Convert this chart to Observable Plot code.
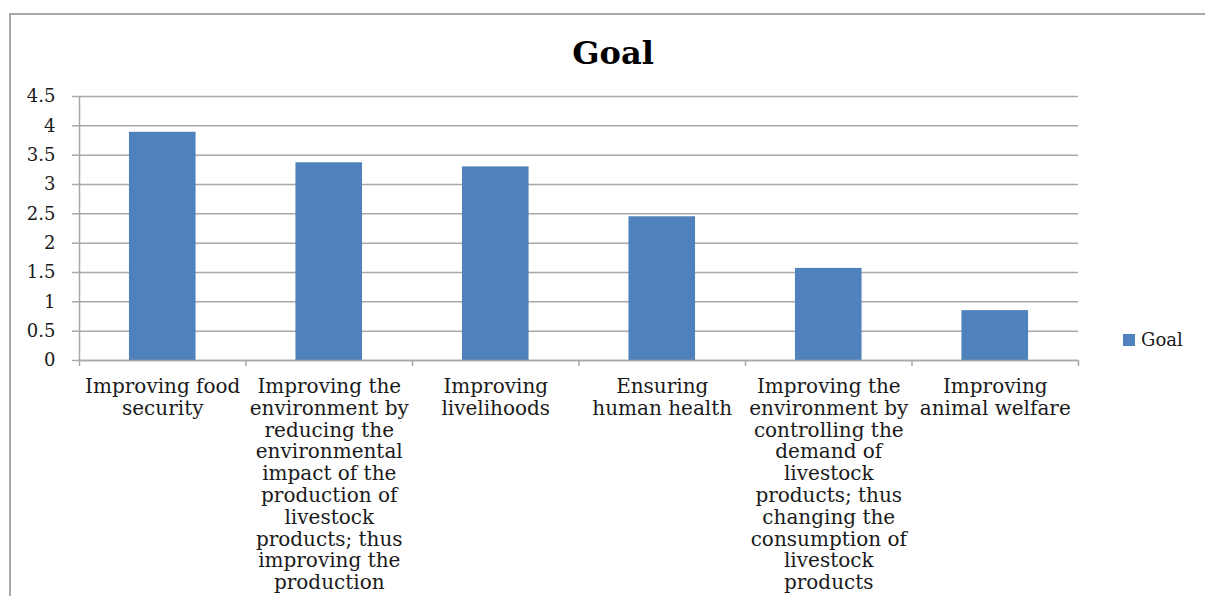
<!DOCTYPE html>
<html>
<head>
<meta charset="utf-8">
<script src="https://cdn.jsdelivr.net/npm/d3@7"></script>
<script src="https://cdn.jsdelivr.net/npm/@observablehq/plot@0.6"></script>
<style>
  html, body { margin: 0; padding: 0; background: #fff; overflow: hidden; }
  #wrap { position: relative; width: 1205px; height: 596px; overflow: hidden; }
  #border { position: absolute; left: 9px; top: 13px; width: 1400px; height: 800px;
            border-left: 2px solid #a8a8a8; border-top: 2px solid #a8a8a8; box-sizing: border-box; }
  #chart { position: absolute; left: 0; top: 0; }
  #legend { position: absolute; left: 1123px; top: 329px; font-family: "DejaVu Serif", serif;
            font-size: 18px; color: #1a1a1a; display: flex; align-items: center; }
  #legend .sw { width: 12px; height: 12px; background: #4f81bd; margin-right: 6px; }
</style>
</head>
<body>
<div id="wrap">
  <div id="border"></div>
  <div id="chart"></div>
  <div id="legend"><div class="sw"></div><span>Goal</span></div>
</div>
<script>
const title = "Goal";
const seriesName = "Goal";
const categories = [
  "Improving food security",
  "Improving the environment by reducing the environmental impact of the production of livestock products; thus improving the production",
  "Improving livelihoods",
  "Ensuring human health",
  "Improving the environment by controlling the demand of livestock products; thus changing the consumption of livestock products",
  "Improving animal welfare"
];
const tickLabels = [
  "Improving food\nsecurity",
  "Improving the\nenvironment by\nreducing the\nenvironmental\nimpact of the\nproduction of\nlivestock\nproducts; thus\nimproving the\nproduction",
  "Improving\nlivelihoods",
  "Ensuring\nhuman health",
  "Improving the\nenvironment by\ncontrolling the\ndemand of\nlivestock\nproducts; thus\nchanging the\nconsumption of\nlivestock\nproducts",
  "Improving\nanimal welfare"
];
const values = [3.89, 3.37, 3.30, 2.45, 1.57, 0.85];
const yTicks = [0, 0.5, 1, 1.5, 2, 2.5, 3, 3.5, 4, 4.5];

const data = categories.map((c, i) => ({category: c, i, value: values[i]}));

const W = 1205, H = 596;
const mL = 79, mR = 127, mT = 96, mB = 236;
const step = (W - mL - mR) / categories.length;
const inset = step * 0.3;
const grid = "#a8a8a8";
const serif = "DejaVu Serif";

const chart = Plot.plot({
  width: W,
  height: H,
  marginLeft: mL,
  marginRight: mR,
  marginTop: mT,
  marginBottom: mB,
  style: {background: "transparent", overflow: "visible", fontFamily: serif, color: "#1a1a1a"},
  x: {domain: [0, categories.length]},
  y: {domain: [0, 4.5]},
  marks: [
    Plot.gridY({ticks: yTicks, stroke: grid, strokeOpacity: 1, strokeWidth: 1.5}),
    Plot.axisY({ticks: yTicks, tickSize: 7, tickPadding: 17, tickFormat: d => String(d),
                stroke: grid, strokeWidth: 1.5, fontSize: 18, fontFamily: serif, label: null}),
    Plot.rectY(data, {x1: "i", x2: d => d.i + 1, y: "value", fill: "#4f81bd",
                      insetLeft: inset, insetRight: inset}),
    Plot.ruleX([0], {stroke: grid, strokeWidth: 1.5}),
    Plot.ruleY([0], {stroke: grid, strokeWidth: 1.5}),
    Plot.axisX({ticks: d3.range(categories.length + 1), tickSize: 6, tickFormat: () => "",
                stroke: grid, strokeWidth: 1.5, label: null}),
    Plot.axisX({ticks: categories.map((c, i) => i + 0.5), tickSize: 0, tickPadding: 17,
                tickFormat: x => tickLabels[Math.floor(x)], fontSize: 20, lineHeight: 1.09,
                fontFamily: serif, label: null}),
    Plot.text([title], {frameAnchor: "top", dx: 34, dy: -55, fontSize: 32, fontWeight: "bold",
                        fontFamily: serif, fill: "#000"})
  ]
});
document.getElementById("chart").appendChild(chart);
</script>
</body>
</html>
